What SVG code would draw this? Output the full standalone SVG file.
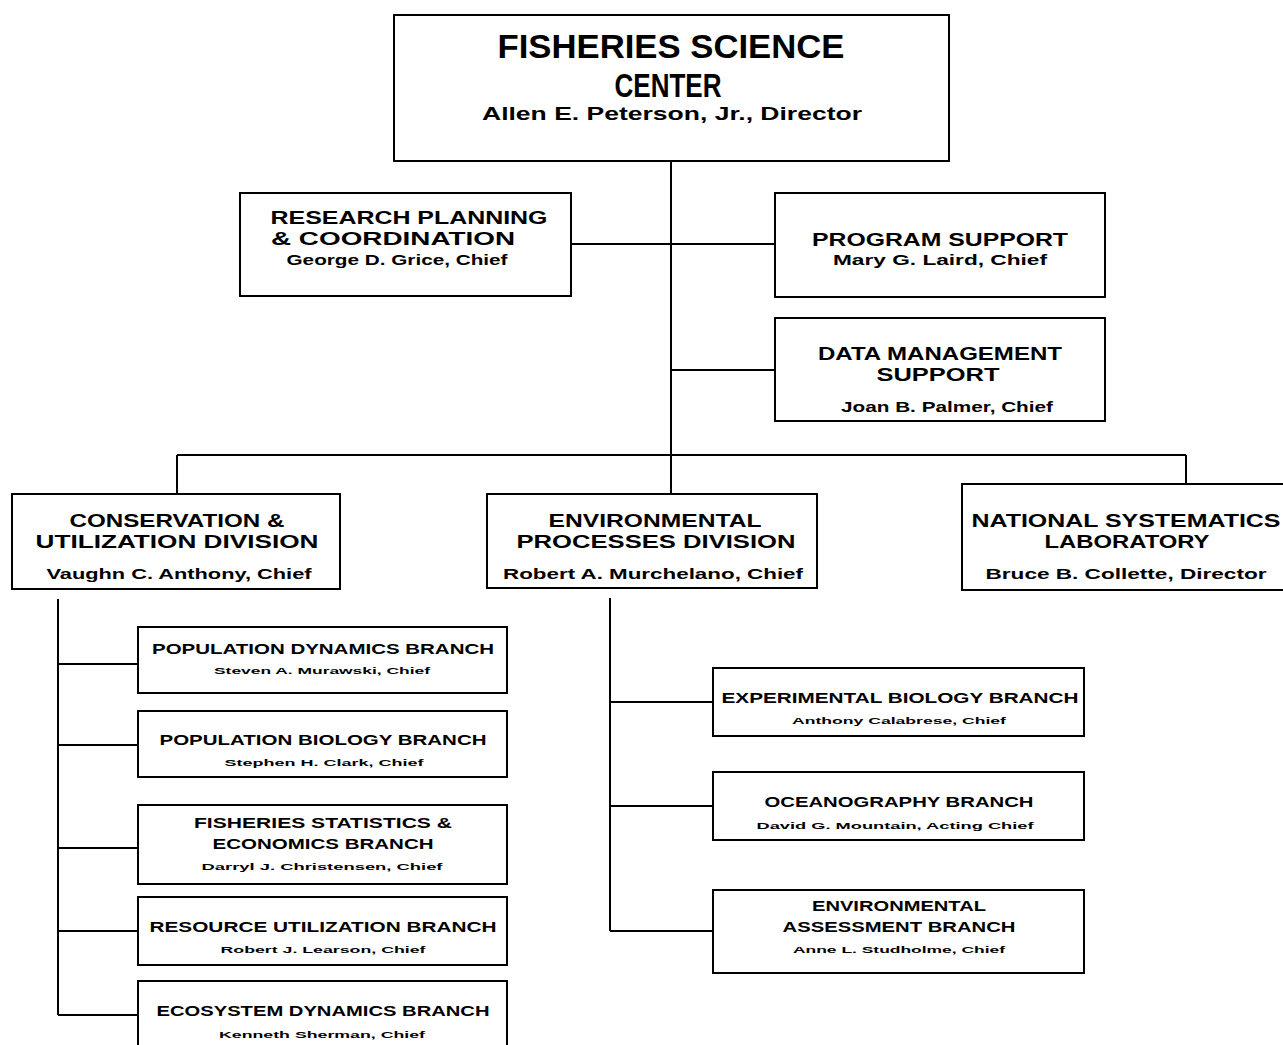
<svg xmlns="http://www.w3.org/2000/svg" width="1283" height="1045" viewBox="0 0 1283 1045">
<style>
.box{fill:#fff;stroke:#000;stroke-width:2}
.ln{stroke:#000;stroke-width:2;fill:none}
text{font-family:"Liberation Sans",Arial,sans-serif;fill:#000;text-anchor:middle;font-weight:bold}
.big{font-size:33px}
.dir{font-size:19px}
.h{font-size:19px}
.s{font-size:14px}
.bt{font-size:15px}
.bs{font-size:9px}
</style>
<rect width="1283" height="1045" fill="#fff"/>
<g id="connectors">
<path class="ln" d="M671 161V455M571 244H775M671 370H775M177 455H1186M177 455V494M671 455V494M1186 455V484"/>
<path class="ln" d="M58 599V1015M58 664H138M58 745H138M58 848H138M58 931H138M58 1015H138"/>
<path class="ln" d="M610 598V931M610 702H713M610 806H713M610 931H713"/>
</g>
<g id="fsc"><rect class="box" x="394" y="15" width="555" height="146"/>
<text class="big" x="671" y="58" textLength="347" lengthAdjust="spacingAndGlyphs">FISHERIES SCIENCE</text>
<text class="big" x="668" y="97" textLength="107" lengthAdjust="spacingAndGlyphs">CENTER</text>
<text class="dir" x="672" y="120" textLength="380" lengthAdjust="spacingAndGlyphs">Allen E. Peterson, Jr., Director</text></g>
<g id="rpc"><rect class="box" x="240" y="193" width="331" height="103"/>
<text class="h" x="409" y="224" textLength="277" lengthAdjust="spacingAndGlyphs">RESEARCH PLANNING</text>
<text class="h" x="393" y="245" textLength="244" lengthAdjust="spacingAndGlyphs">&amp; COORDINATION</text>
<text class="s" x="397" y="265" textLength="221" lengthAdjust="spacingAndGlyphs">George D. Grice, Chief</text></g>
<g id="ps"><rect class="box" x="775" y="193" width="330" height="104"/>
<text class="h" x="940" y="246" textLength="256" lengthAdjust="spacingAndGlyphs">PROGRAM SUPPORT</text>
<text class="s" x="940" y="265" textLength="214" lengthAdjust="spacingAndGlyphs">Mary G. Laird, Chief</text></g>
<g id="dms"><rect class="box" x="775" y="318" width="330" height="103"/>
<text class="h" x="940" y="360" textLength="244" lengthAdjust="spacingAndGlyphs">DATA MANAGEMENT</text>
<text class="h" x="938" y="381" textLength="123" lengthAdjust="spacingAndGlyphs">SUPPORT</text>
<text class="s" x="947" y="412" textLength="212" lengthAdjust="spacingAndGlyphs">Joan B. Palmer, Chief</text></g>
<g id="cud"><rect class="box" x="12" y="494" width="328" height="95"/>
<text class="h" x="177" y="527" textLength="215" lengthAdjust="spacingAndGlyphs">CONSERVATION &amp;</text>
<text class="h" x="177" y="548" textLength="283" lengthAdjust="spacingAndGlyphs">UTILIZATION DIVISION</text>
<text class="s" x="179" y="579" textLength="265" lengthAdjust="spacingAndGlyphs">Vaughn C. Anthony, Chief</text></g>
<g id="epd"><rect class="box" x="487" y="494" width="330" height="94"/>
<text class="h" x="655" y="527" textLength="213" lengthAdjust="spacingAndGlyphs">ENVIRONMENTAL</text>
<text class="h" x="656" y="548" textLength="279" lengthAdjust="spacingAndGlyphs">PROCESSES DIVISION</text>
<text class="s" x="653" y="579" textLength="300" lengthAdjust="spacingAndGlyphs">Robert A. Murchelano, Chief</text></g>
<g id="nsl"><rect class="box" x="962" y="484" width="330" height="106"/>
<text class="h" x="1126" y="527" textLength="309" lengthAdjust="spacingAndGlyphs">NATIONAL SYSTEMATICS</text>
<text class="h" x="1127" y="548" textLength="165" lengthAdjust="spacingAndGlyphs">LABORATORY</text>
<text class="s" x="1126" y="579" textLength="281" lengthAdjust="spacingAndGlyphs">Bruce B. Collette, Director</text></g>
<g id="pdb"><rect class="box" x="138" y="627" width="369" height="66"/>
<text class="bt" x="323" y="654" textLength="342" lengthAdjust="spacingAndGlyphs">POPULATION DYNAMICS BRANCH</text>
<text class="bs" x="322" y="674" textLength="216" lengthAdjust="spacingAndGlyphs">Steven A. Murawski, Chief</text></g>
<g id="pbb"><rect class="box" x="138" y="711" width="369" height="66"/>
<text class="bt" x="323" y="745" textLength="327" lengthAdjust="spacingAndGlyphs">POPULATION BIOLOGY BRANCH</text>
<text class="bs" x="324" y="766" textLength="199" lengthAdjust="spacingAndGlyphs">Stephen H. Clark, Chief</text></g>
<g id="fseb"><rect class="box" x="138" y="805" width="369" height="79"/>
<text class="bt" x="323" y="828" textLength="258" lengthAdjust="spacingAndGlyphs">FISHERIES STATISTICS &amp;</text>
<text class="bt" x="323" y="849" textLength="221" lengthAdjust="spacingAndGlyphs">ECONOMICS BRANCH</text>
<text class="bs" x="322" y="870" textLength="241" lengthAdjust="spacingAndGlyphs">Darryl J. Christensen, Chief</text></g>
<g id="rub"><rect class="box" x="138" y="897" width="369" height="68"/>
<text class="bt" x="323" y="932" textLength="347" lengthAdjust="spacingAndGlyphs">RESOURCE UTILIZATION BRANCH</text>
<text class="bs" x="323" y="953" textLength="205" lengthAdjust="spacingAndGlyphs">Robert J. Learson, Chief</text></g>
<g id="edb"><rect class="box" x="138" y="981" width="369" height="70"/>
<text class="bt" x="323" y="1016" textLength="333" lengthAdjust="spacingAndGlyphs">ECOSYSTEM DYNAMICS BRANCH</text>
<text class="bs" x="322" y="1038" textLength="206" lengthAdjust="spacingAndGlyphs">Kenneth Sherman, Chief</text></g>
<g id="ebb"><rect class="box" x="713" y="668" width="371" height="68"/>
<text class="bt" x="900" y="703" textLength="357" lengthAdjust="spacingAndGlyphs">EXPERIMENTAL BIOLOGY BRANCH</text>
<text class="bs" x="899" y="724" textLength="214" lengthAdjust="spacingAndGlyphs">Anthony Calabrese, Chief</text></g>
<g id="ob"><rect class="box" x="713" y="772" width="371" height="68"/>
<text class="bt" x="899" y="807" textLength="269" lengthAdjust="spacingAndGlyphs">OCEANOGRAPHY BRANCH</text>
<text class="bs" x="895" y="829" textLength="277" lengthAdjust="spacingAndGlyphs">David G. Mountain, Acting Chief</text></g>
<g id="eab"><rect class="box" x="713" y="890" width="371" height="83"/>
<text class="bt" x="899" y="911" textLength="174" lengthAdjust="spacingAndGlyphs">ENVIRONMENTAL</text>
<text class="bt" x="899" y="932" textLength="233" lengthAdjust="spacingAndGlyphs">ASSESSMENT BRANCH</text>
<text class="bs" x="899" y="953" textLength="212" lengthAdjust="spacingAndGlyphs">Anne L. Studholme, Chief</text></g>
</svg>
